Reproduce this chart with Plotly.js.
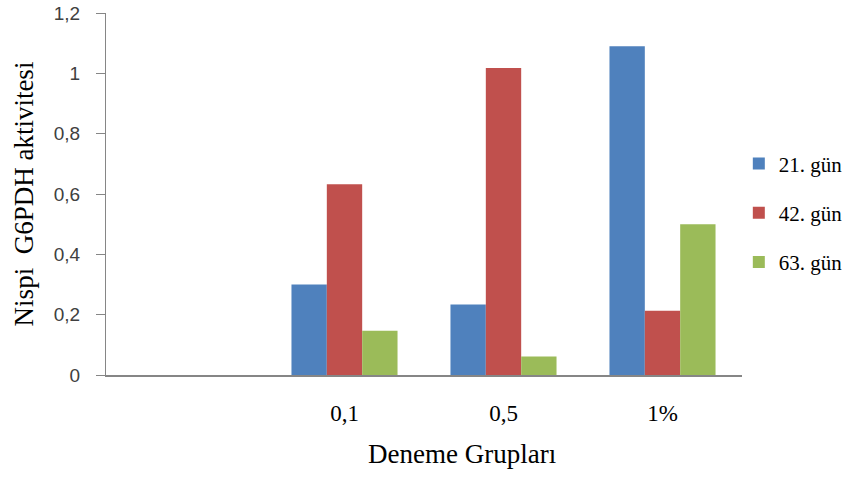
<!DOCTYPE html>
<html><head><meta charset="utf-8">
<script src="https://cdn.plot.ly/plotly-3.0.1.min.js"></script>
<style>body{margin:0;background:#fff}#c{width:846px;height:481px}</style>
</head><body><div id="c"></div>
<script>
const categories = ["", "0,1", "0,5", "1%"];
const seriesNames = ["21. gün", "42. gün", "63. gün"];
const day21 = [null, 0.30, 0.234, 1.09];
const day42 = [null, 0.632, 1.018, 0.213];
const day63 = [null, 0.147, 0.061, 0.50];
const colors = ["#4F81BD", "#C0504D", "#9BBB59"];

const serif = "Liberation Serif, Times New Roman, serif";
const vals = [day21, day42, day63];
const traces = vals.map((v, i) => ({
  type: "bar", x: categories, y: v, name: seriesNames[i],
  marker: {color: colors[i], line: {width: 0}},
  legendgroup: "g" + i
}));

const layout = {
  width: 846, height: 481,
  margin: {l: 106, r: 104, t: 13, b: 106, autoexpand: false},
  paper_bgcolor: "#fff", plot_bgcolor: "#fff",
  barmode: "group", bargap: 0.333, bargroupgap: 0,
  showlegend: true,
  legend: {x: 0.995, xanchor: "left", y: 0.64, yanchor: "top",
           font: {family: serif, size: 21, color: "#000"},
           tracegroupgap: 19, itemwidth: 30, bgcolor: "rgba(0,0,0,0)"},
  xaxis: {type: "category", showline: true, linecolor: "#868686", linewidth: 1.5,
          ticks: "", showgrid: false, zeroline: false, automargin: false,
          tickfont: {family: serif, size: 23, color: "#000"},
          ticklabelstandoff: 17, fixedrange: true},
  yaxis: {range: [0, 1.2], dtick: 0.2, tick0: 0, showline: true, linecolor: "#868686", linewidth: 1,
          ticks: "outside", ticklen: 9, tickcolor: "#868686", showgrid: false, zeroline: false, automargin: false,
          tickfont: {family: "Liberation Sans, Arial, sans-serif", size: 19, color: "#404040"},
          ticklabelstandoff: 12,
          title: {text: "Nispi  G6PDH aktivitesi", font: {family: serif, size: 27, color: "#000"}, standoff: 12}},
  separators: ", ",
  annotations: [{text: "Deneme Grupları", xref: "paper", yref: "paper", x: 0.56, y: -0.218,
                 xanchor: "center", yanchor: "middle", showarrow: false,
                 font: {family: serif, size: 27, color: "#000"}}]
};
Plotly.newPlot("c", traces, layout, {displayModeBar: false, staticPlot: true});
</script></body></html>
